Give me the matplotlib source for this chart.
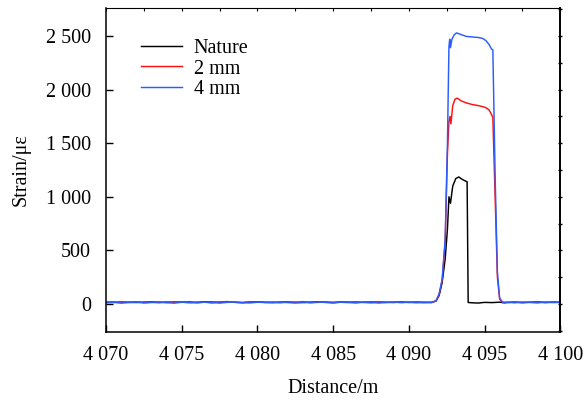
import matplotlib
matplotlib.use("Agg")
import matplotlib.pyplot as plt
from matplotlib.ticker import MultipleLocator

plt.rcParams['font.family'] = ['Liberation Serif', 'DejaVu Serif']

# baseline section, 4070 -> 4091.5 every 0.5 m
base_x = [4070 + 0.5 * i for i in range(44)]
nature_base = [18, 16, 19, 17, 15, 18, 20, 17, 16, 19, 18, 15, 17, 20, 19, 16, 18, 17,
               15, 19, 20, 17, 16, 18, 19, 16, 15, 18, 20, 17, 16, 19, 18, 15, 17, 19,
               18, 16, 17, 19, 16, 18, 17, 16]
mm2_base = [15, 20, 13, 18, 22, 14, 17, 12, 21, 16, 19, 23, 14, 18, 11, 20, 24, 16,
            13, 19, 22, 15, 18, 12, 20, 17, 23, 14, 16, 21, 13, 19, 17, 22, 15, 12,
            20, 18, 14, 21, 16, 19, 13, 17]
mm4_base = [12, 16, 10, 14, 18, 11, 15, 19, 13, 9, 17, 14, 12, 18, 15, 10, 16, 19,
            13, 11, 17, 15, 12, 18, 14, 10, 16, 13, 19, 15, 11, 17, 14, 12, 18, 16,
            10, 15, 19, 13, 17, 12, 16, 14]

# crack zone
nature_zx = [4091.8, 4092.0, 4092.2, 4092.4, 4092.55, 4092.65, 4092.75, 4092.9, 4093.1,
             4093.3, 4093.5, 4093.7, 4093.85, 4093.92, 4094.2, 4094.6, 4095.0, 4095.5,
             4096.0, 4096.3]
nature_zy = [30, 80, 200, 420, 700, 1000, 940, 1100, 1170, 1185, 1165, 1150, 1140, 15,
             12, 10, 16, 14, 18, 12]

mm2_zx = [4091.8, 4092.0, 4092.2, 4092.4, 4092.55, 4092.65, 4092.72, 4092.78, 4092.9,
          4093.05, 4093.2, 4093.45, 4093.8, 4094.2, 4094.6, 4094.9, 4095.1, 4095.3,
          4095.45, 4095.55, 4095.7, 4095.85, 4096.0, 4096.2]
mm2_zy = [28, 90, 220, 580, 1400, 1700, 1750, 1680, 1850, 1910, 1920, 1895, 1875, 1860,
          1850, 1840, 1830, 1810, 1770, 1740, 1000, 250, 45, 15]

mm4_zx = [4091.8, 4092.0, 4092.2, 4092.4, 4092.55, 4092.65, 4092.7, 4092.75, 4092.85,
          4093.0, 4093.15, 4093.4, 4093.8, 4094.2, 4094.6, 4094.9, 4095.1, 4095.3,
          4095.45, 4095.55, 4095.7, 4095.85, 4096.0, 4096.2]
mm4_zy = [30, 95, 230, 600, 1500, 2400, 2470, 2390, 2470, 2510, 2528, 2515, 2495, 2490,
          2485, 2475, 2455, 2420, 2380, 2370, 1200, 300, 55, 18]

# tail, 4096.5 -> 4100
tail_x = [4096.5 + 0.5 * i for i in range(8)]
nature_tail = [16, 18, 15, 17, 19, 16, 18, 17]
mm2_tail = [14, 20, 12, 18, 22, 13, 19, 16]
mm4_tail = [17, 12, 19, 15, 11, 18, 14, 16]

xticks = [4070, 4075, 4080, 4085, 4090, 4095, 4100]
xtick_labels = ['4 070', '4 075', '4 080', '4 085', '4 090', '4 095', '4 100']
yticks = [0, 500, 1000, 1500, 2000, 2500]
ytick_labels = ['0', '500', '1 000', '1 500', '2 000', '2 500']

series = [
    ('Nature', nature_base + nature_zy + nature_tail, nature_zx, 'black'),
    ('2 mm', mm2_base + mm2_zy + mm2_tail, mm2_zx, '#ff1010'),
    ('4 mm', mm4_base + mm4_zy + mm4_tail, mm4_zx, '#2a5cff'),
]

fig = plt.figure(figsize=(5.86, 4.0), dpi=100)
ax = fig.add_axes([0.181, 0.17, 0.775, 0.81])

for name, y, zx, color in series:
    x = base_x + zx + tail_x
    ax.plot(x, y, color=color, lw=1.05, label=name)

ax.set_xlim(4070, 4100)
ax.set_ylim(-260, 2760)
ax.set_xticks(xticks)
ax.set_xticklabels(xtick_labels)
ax.set_yticks(yticks)
ax.set_yticklabels(ytick_labels)
ax.tick_params(direction='in', length=5, width=1.0, labelsize=14.5)
ax.tick_params(axis='y', pad=11)
ax.tick_params(axis='x', pad=10)

ax.spines['left'].set_linewidth(1.1)
ax.spines['bottom'].set_linewidth(1.1)
ax.spines['right'].set_linewidth(1.4)
ax.spines['top'].set_linewidth(0.8)

# small ticks on top and right spines
ax_top = ax.twiny()
ax_top.set_xlim(ax.get_xlim())
ax_top.xaxis.set_major_locator(MultipleLocator(2.5))
ax_top.tick_params(axis='x', direction='in', length=2, width=0.8, labeltop=False)

ax_right = ax.twinx()
ax_right.set_ylim(ax.get_ylim())
ax_right.yaxis.set_major_locator(MultipleLocator(250))
ax_right.tick_params(axis='y', direction='inout', length=2.5, width=1.0, labelright=False)
for a in (ax_top, ax_right):
    for s in a.spines.values():
        s.set_visible(False)

ax.set_xlabel('Distance/m', fontsize=14.5, labelpad=10)
ax.set_ylabel('Strain/με', fontsize=14.5, labelpad=11)

ax.legend(loc='upper left', bbox_to_anchor=(0.06, 0.93), frameon=False, fontsize=14.5,
          handlelength=2.0, handletextpad=0.6, labelspacing=0.08, borderaxespad=0)

fig.savefig('out.png', dpi=100)
